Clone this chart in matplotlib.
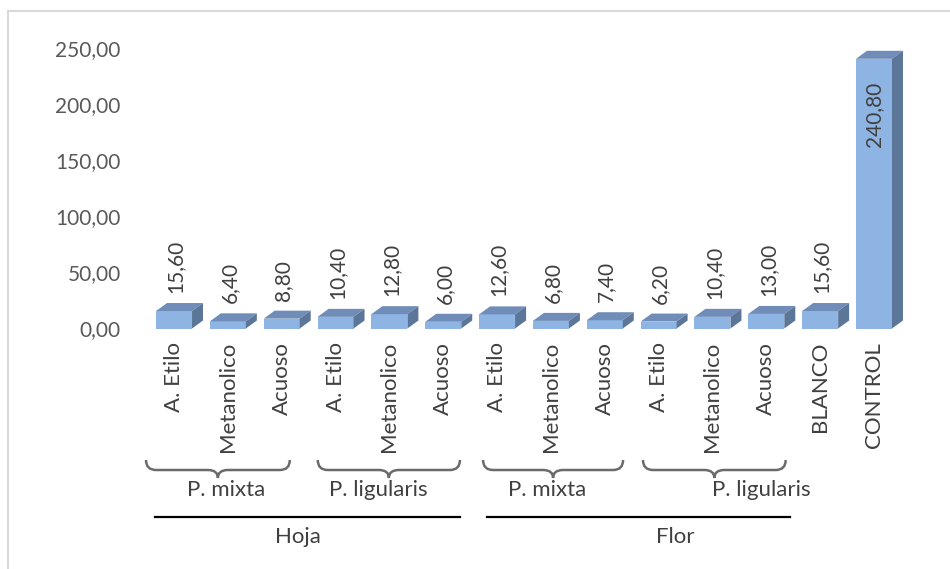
import matplotlib
matplotlib.use("Agg")
import matplotlib.pyplot as plt
from matplotlib.patches import Polygon, Rectangle, PathPatch
from matplotlib.path import Path
from matplotlib.lines import Line2D
import matplotlib.transforms as mtransforms

# ---- data ----
categories = ["A. Etilo", "Metanolico", "Acuoso"] * 4 + ["BLANCO", "CONTROL"]
values = [15.60, 6.40, 8.80, 10.40, 12.80, 6.00,
          12.60, 6.80, 7.40, 6.20, 10.40, 13.00,
          15.60, 240.80]
species_labels = ["P. mixta", "P. ligularis", "P. mixta", "P. ligularis"]
organ_labels = ["Hoja", "Flor"]
y_ticks = [0, 50, 100, 150, 200, 250]

# ---- layout (x in category units) ----
species_spans = [(-0.52, 2.15), (2.67, 5.31), (5.74, 8.34), (8.71, 11.36)]
species_text_x = [0.97, 3.79, 6.93, 10.90]
organ_spans = [(-0.35, 5.31), (5.81, 11.44)]
organ_text_x = [2.3, 9.3]

W, H = 950, 569
fig = plt.figure(figsize=(W / 100, H / 100), dpi=100)
fig.patch.set_facecolor("white")

def fy(py):
    return 1 - py / H

ax_left, ax_right = 147.1, 900.9
ax_bottom, ax_top = 328.5, 48.5
ax = fig.add_axes([ax_left / W, fy(ax_bottom), (ax_right - ax_left) / W,
                   (ax_bottom - ax_top) / H])
ax.set_xlim(-0.5, 13.5)
ax.set_ylim(0, 250)
for s in ax.spines.values():
    s.set_visible(False)
ax.set_xticks([])
ax.set_yticks(y_ticks)
ax.set_yticklabels([f"{v:.2f}".replace(".", ",") for v in y_ticks])
ax.tick_params(axis="y", length=0, pad=19, labelsize=15, labelcolor="#595959")
for t in ax.get_yticklabels():
    t.set_fontfamily("Lato")

px_x = (ax_right - ax_left) / 14.0
px_y = (ax_bottom - ax_top) / 250.0
bar_w = 36 / px_x
dx = 11 / px_x
dy = 8 / px_y

front_c = "#8EB4E3"
top_c = "#6F8DB8"
side_c = "#5B7699"

for i, v in enumerate(values):
    x0 = i - bar_w / 2
    x1 = i + bar_w / 2
    ax.add_patch(Rectangle((x0, 0), bar_w, v, facecolor=front_c,
                           edgecolor="none", clip_on=False, zorder=2))
    ax.add_patch(Polygon([(x0, v), (x1, v), (x1 + dx, v + dy), (x0 + dx, v + dy)],
                         closed=True, facecolor=top_c, edgecolor="none",
                         clip_on=False, zorder=2))
    ax.add_patch(Polygon([(x1, 0), (x1, v), (x1 + dx, v + dy), (x1 + dx, dy)],
                         closed=True, facecolor=side_c, edgecolor="none",
                         clip_on=False, zorder=2))
    lab = f"{v:.2f}".replace(".", ",")
    if v > 200:
        ax.annotate(lab, (i, v), xytext=(0, -23), textcoords="offset pixels",
                    rotation=90, ha="center", va="top", fontsize=15,
                    color="#404040", family="Lato", zorder=3)
    else:
        ax.annotate(lab, (i + 0.03, v), xytext=(0, 18), textcoords="offset pixels",
                    rotation=90, ha="center", va="bottom", fontsize=15,
                    color="#404040", family="Lato", zorder=3)

# category labels below the bars
blend = mtransforms.blended_transform_factory(ax.transData, fig.transFigure)
for i, c in enumerate(categories):
    ax.text(i, fy(342), c, rotation=90, ha="center", va="top", fontsize=16,
            color="#404040", family="Lato", transform=blend, clip_on=False)

# curly braces under each species group
y_end, y_flat, y_tip = fy(460), fy(470), fy(478)
r = 10 / px_x
for (a, b), tx, name in zip(species_spans, species_text_x, species_labels):
    m = (a + b) / 2
    verts = [(a, y_end), (a, y_flat), (a + r, y_flat),
             (m - r, y_flat), (m, y_flat), (m, y_tip),
             (m, y_flat), (m + r, y_flat),
             (b - r, y_flat), (b, y_flat), (b, y_end)]
    codes = [Path.MOVETO, Path.CURVE3, Path.CURVE3,
             Path.LINETO, Path.CURVE3, Path.CURVE3,
             Path.CURVE3, Path.CURVE3,
             Path.LINETO, Path.CURVE3, Path.CURVE3]
    fig.patches.append(PathPatch(Path(verts, codes), facecolor="none",
                                 edgecolor="#6b6b6b", lw=1.8, transform=blend))
    fig.text(0, 0, name, fontsize=16, color="#404040", family="Lato",
             ha="center", va="center", transform=blend).set_position((tx, fy(490)))

# organ lines and labels
for (a, b), tx, name in zip(organ_spans, organ_text_x, organ_labels):
    fig.lines.append(Line2D([a, b], [fy(517), fy(517)], color="black", lw=1.6,
                            transform=blend))
    fig.text(0, 0, name, fontsize=16, color="#404040", family="Lato",
             ha="center", va="center", transform=blend).set_position((tx, fy(537)))

# chart frame (top and left edges)
fig.lines.append(Line2D([8 / W, 1], [fy(11), fy(11)], color="#d9d9d9", lw=1.5,
                        transform=fig.transFigure))
fig.lines.append(Line2D([8 / W, 8 / W], [fy(11), 0], color="#d9d9d9", lw=1.5,
                        transform=fig.transFigure))

fig.savefig("out.png", dpi=100)
